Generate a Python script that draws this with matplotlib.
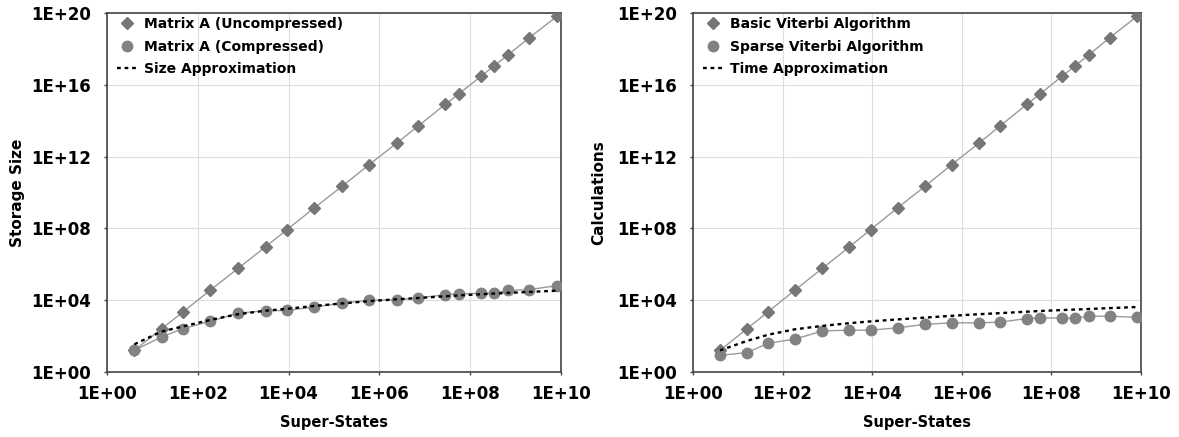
import matplotlib
matplotlib.use("Agg")
import math
import matplotlib.pyplot as plt
from matplotlib.ticker import FixedLocator, FuncFormatter, NullLocator

plt.rcParams['font.family'] = ['DejaVu Sans']
plt.rcParams['font.weight'] = 'bold'

super_states = [4, 16, 48, 190, 770, 3.1e3, 9.2e3, 3.7e4, 1.5e5, 5.9e5, 2.4e6,
                7.1e6, 2.8e7, 5.7e7, 1.7e8, 3.4e8, 6.8e8, 2.0e9, 8.2e9]

# Left panel: storage
uncompressed = [16, 256, 2300, 3.7e4, 5.9e5, 9.4e6, 8.5e7, 1.4e9, 2.2e10, 3.5e11,
                5.6e12, 5.0e13, 8.0e14, 3.2e15, 2.9e16, 1.15e17, 4.6e17, 4.2e18, 6.6e19]
compressed = [16, 91, 263, 676, 1900, 2570, 2690, 4170, 6900, 9800, 1.07e4,
              1.32e4, 2.04e4, 2.29e4, 2.4e4, 2.5e4, 3.5e4, 3.9e4, 6.5e4]
size_approx = [35, 180, 350, 800, 1660, 2600, 3300, 4800, 6600, 8900, 1.12e4,
               1.32e4, 1.66e4, 1.86e4, 2.14e4, 2.34e4, 2.57e4, 2.88e4, 3.4e4]

# Right panel: calculations
basic_viterbi = uncompressed
sparse_viterbi = [8.5, 12, 40, 68, 195, 214, 214, 290, 450, 550, 550, 600,
                  950, 1050, 1000, 1000, 1290, 1290, 1100]
time_approx = [16, 54, 120, 240, 370, 525, 660, 850, 1070, 1350, 1660, 1900,
               2290, 2510, 2820, 3020, 3240, 3630, 4170]

x_ticks = [1e0, 1e2, 1e4, 1e6, 1e8, 1e10]
y_ticks = [1e0, 1e4, 1e8, 1e12, 1e16, 1e20]

def sci_fmt(v, pos):
    e = int(round(math.log10(v)))
    return "1E+%02d" % e

fig = plt.figure(figsize=(11.79, 4.37), dpi=100)
axL = fig.add_axes([107/1179, 1-372/437, 454/1179, 359/437])
axR = fig.add_axes([693/1179, 1-372/437, 448/1179, 359/437])

def style(ax, ylabel, labels, s1, s2, s3, ylab_x):
    ax.set_xscale('log')
    ax.set_yscale('log')
    ax.set_xlim(1, 1e10)
    ax.set_ylim(1, 1e20)
    ax.plot(super_states, s1, color='#9a9a9a', lw=1.0, marker='D', ms=6.5,
            mfc='#767676', mec='#767676', label=labels[0], zorder=3)
    ax.plot(super_states, s2, color='#9a9a9a', lw=1.0, marker='o', ms=7.5,
            mfc='#828282', mec='#828282', label=labels[1], zorder=3)
    ax.plot(super_states, s3, color='black', lw=1.7, ls=(0, (1.6, 1.6)),
            label=labels[2], zorder=4)
    ax.xaxis.set_major_locator(FixedLocator(x_ticks))
    ax.yaxis.set_major_locator(FixedLocator(y_ticks))
    ax.xaxis.set_minor_locator(NullLocator())
    ax.yaxis.set_minor_locator(NullLocator())
    ax.xaxis.set_major_formatter(FuncFormatter(sci_fmt))
    ax.yaxis.set_major_formatter(FuncFormatter(sci_fmt))
    ax.grid(True, color='#dddddd', lw=0.8)
    ax.set_axisbelow(True)
    for sp in ax.spines.values():
        sp.set_color('#444444')
        sp.set_linewidth(1.2)
    ax.tick_params(axis='both', labelsize=12, length=2.5, width=1,
                   color='#444444')
    ax.tick_params(axis='x', pad=7)
    ax.tick_params(axis='y', pad=9)
    for t in ax.get_xticklabels() + ax.get_yticklabels():
        t.set_fontweight('bold')
    ax.set_xlabel('Super-States', fontsize=10.5, fontweight='bold')
    ax.xaxis.label.set_va('center')
    ax.xaxis.set_label_coords(0.5, (372 - 423) / 359)
    ax.set_ylabel(ylabel, fontsize=11, fontweight='bold')
    ax.yaxis.label.set_va('center')
    ax.yaxis.set_label_coords(ylab_x, 0.5)
    leg = ax.legend(loc='upper left', frameon=False, fontsize=10,
                    handlelength=1.5, handletextpad=0.5, borderaxespad=0.0,
                    labelspacing=0.6, borderpad=0.3,
                    bbox_to_anchor=(0.012, 1.0))
    for t in leg.get_texts():
        t.set_fontweight('bold')
    for h in leg.legend_handles[:2]:
        h.set_linestyle('none')

style(axL, 'Storage Size',
      ['Matrix A (Uncompressed)', 'Matrix A (Compressed)', 'Size Approximation'],
      uncompressed, compressed, size_approx, (17 - 107) / 454)
style(axR, 'Calculations',
      ['Basic Viterbi Algorithm', 'Sparse Viterbi Algorithm', 'Time Approximation'],
      basic_viterbi, sparse_viterbi, time_approx, (599 - 693) / 448)

fig.savefig('out.png', dpi=100)
